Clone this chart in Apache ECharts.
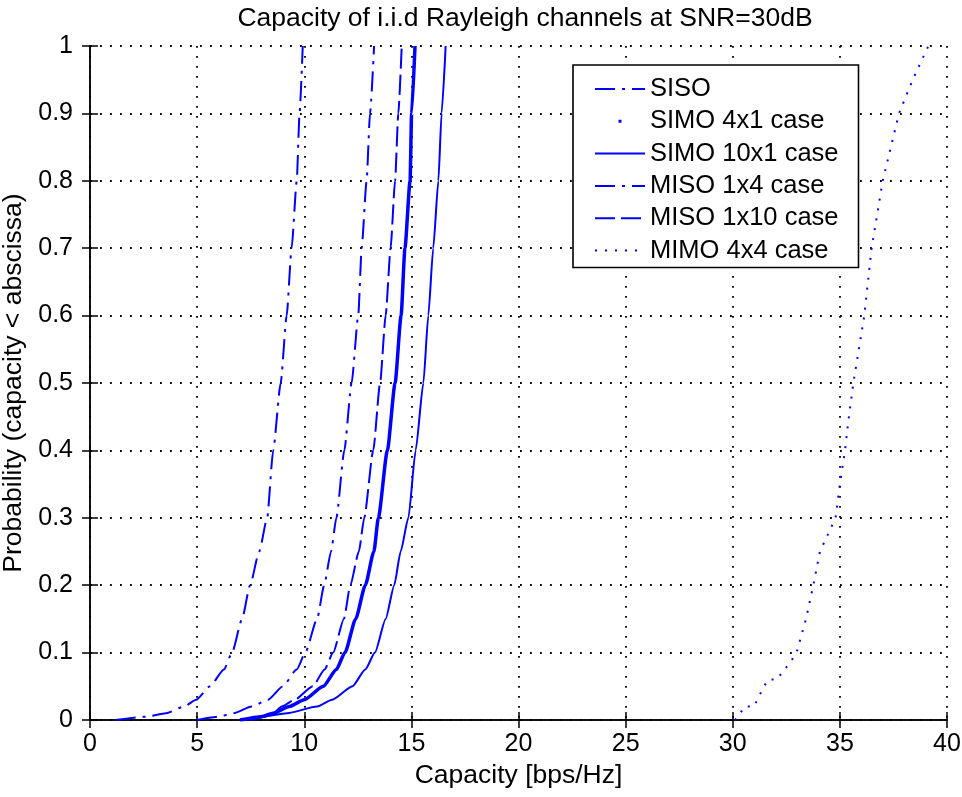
<!DOCTYPE html>
<html>
<head>
<meta charset="utf-8">
<script src="https://cdn.jsdelivr.net/npm/echarts@6/dist/echarts.min.js"></script>
<style>
  html, body { margin: 0; padding: 0; background: #fff; }
  #chart { width: 962px; height: 797px; }
</style>
</head>
<body>
<div id="chart"></div>
<script>
// ---- data ----
const titleText = 'Capacity of i.i.d Rayleigh channels at SNR=30dB';
const xTitle = 'Capacity [bps/Hz]';
const yTitle = 'Probability (capacity < abscissa)';
const seriesNames = ['SISO', 'SIMO 4x1 case', 'SIMO 10x1 case', 'MISO 1x4 case', 'MISO 1x10 case', 'MIMO 4x4 case'];

// probability levels shared by the five left-hand curves
const probLevels = [0, 0.005, 0.01, 0.02, 0.03, 0.05, 0.075, 0.1, 0.15, 0.2, 0.25, 0.3, 0.4, 0.5, 0.6, 0.7, 0.8, 0.9, 1.0];
// capacity (bps/Hz) at each probability level
const sisoCap   = [1.2, 2.6, 3.55, 4.4, 4.95, 5.6, 6.25, 6.63, 7.1, 7.47, 7.9, 8.27, 8.55, 8.9, 9.18, 9.41, 9.65, 9.78, 9.93];
const simo4Cap  = [7.0, 8.0, 8.55, 9.3, 10.0, 10.89, 11.5, 11.9, 12.4, 12.85, 13.25, 13.46, 13.88, 14.24, 14.52, 14.7, 14.94, 15.01, 15.17];
const simo10Cap = [7.0, 8.0, 9.2, 10.6, 11.3, 12.25, 12.85, 13.3, 13.8, 14.2, 14.5, 14.86, 15.2, 15.56, 15.79, 16.02, 16.26, 16.41, 16.6];
const miso4Cap  = [5.0, 6.0, 6.7, 7.55, 8.3, 9.0, 9.65, 10.05, 10.6, 10.93, 11.25, 11.5, 11.87, 12.21, 12.52, 12.68, 12.91, 13.07, 13.26];
const miso10Cap = [7.5, 8.2, 8.55, 8.95, 9.55, 10.4, 10.95, 11.35, 11.85, 12.15, 12.55, 12.8, 13.22, 13.54, 13.8, 14.03, 14.24, 14.39, 14.55];
// MIMO 4x4 curve
const mimoCap  = [30.1, 30.26, 30.54, 30.99, 31.46, 31.66, 32.05, 32.67, 32.98, 33.42, 33.76, 34.07, 34.8, 35.0, 35.24, 35.4, 35.63, 36.14, 36.48, 37.0, 37.76, 38.4, 39.13];
const mimoProb = [0, 0.005, 0.02, 0.02, 0.05, 0.06, 0.06, 0.085, 0.1, 0.15, 0.2, 0.25, 0.3, 0.35, 0.4, 0.445, 0.5, 0.6, 0.7, 0.8, 0.9, 0.95, 1.0];
const xTicks = [0, 5, 10, 15, 20, 25, 30, 35, 40];
const yTicks = [0, 0.1, 0.2, 0.3, 0.4, 0.5, 0.6, 0.7, 0.8, 0.9, 1];

// ---- chart ----
const FONT = 'Liberation Sans, Arial, sans-serif';
const BLUE = '#0000ff';
const zip = (xs, ys) => xs.map((x, i) => [x, ys[i]]);

const chart = echarts.init(document.getElementById('chart'), null, { renderer: 'canvas' });

const commonAxisLine = { show: true, lineStyle: { color: '#000', width: 1.5 } };
const dottedGrid = { show: true, lineStyle: { color: '#000', width: 1.8, type: [1.8, 8.2] } };
const tickStyle = { show: true, inside: true, length: 8, lineStyle: { color: '#000', width: 1.5 } };

const baseLine = (name, data, lineStyle) => ({
  name, type: 'line', data, symbol: 'none', showSymbol: false,
  smooth: 0.2, smoothMonotone: 'x', clip: true,
  lineStyle: Object.assign({ color: BLUE, width: 2 }, lineStyle),
  itemStyle: { color: BLUE },
  emphasis: { disabled: true }, animation: false
});

const hiddenSym = { opacity: 0 };

const option = {
  animation: false,
  backgroundColor: '#fff',
  title: {
    text: titleText, left: 520, top: 0, textAlign: 'center',
    textStyle: { fontFamily: FONT, fontSize: 26.5, fontWeight: 'normal', color: '#000' }
  },
  grid: { left: 90, top: 46, right: 15, bottom: 77, outerBoundsMode: 'none', containLabel: false },
  legend: {
    orient: 'vertical', left: 573, top: 65,
    backgroundColor: '#fff', borderColor: '#000', borderWidth: 1.6,
    padding: [11, 20, 4, 21],
    itemWidth: 50, itemHeight: 14, itemGap: 6.3,
    textStyle: { fontFamily: FONT, fontSize: 25.5, color: '#000' },
    selectedMode: false,
    data: [
      { name: seriesNames[0], itemStyle: hiddenSym },
      { name: seriesNames[1], icon: 'path://M0,0L0.01,0M50,0L50.01,0M0,14L0.01,14M50,14L50.01,14M23.5,5.5L26.5,5.5L26.5,8.5L23.5,8.5Z', itemStyle: { color: BLUE, borderWidth: 0, opacity: 1 } },
      { name: seriesNames[2], itemStyle: hiddenSym },
      { name: seriesNames[3], itemStyle: hiddenSym },
      { name: seriesNames[4], itemStyle: hiddenSym },
      { name: seriesNames[5], itemStyle: hiddenSym }
    ]
  },
  xAxis: [
    {
      type: 'value', min: xTicks[0], max: xTicks[xTicks.length - 1], interval: 5, position: 'bottom',
      axisLine: commonAxisLine, axisTick: tickStyle,
      axisLabel: { fontFamily: FONT, fontSize: 25, color: '#000', margin: 12 },
      splitLine: dottedGrid,
      name: xTitle, nameLocation: 'middle', nameGap: 39,
      nameTextStyle: { fontFamily: FONT, fontSize: 26.5, color: '#000' }
    },
    {
      type: 'value', min: xTicks[0], max: xTicks[xTicks.length - 1], interval: 5, position: 'top',
      axisLine: commonAxisLine, axisTick: tickStyle,
      axisLabel: { show: false }, splitLine: { show: false }
    }
  ],
  yAxis: [
    {
      type: 'value', min: yTicks[0], max: yTicks[yTicks.length - 1], interval: 0.1, position: 'left',
      axisLine: commonAxisLine, axisTick: tickStyle,
      axisLabel: {
        fontFamily: FONT, fontSize: 25, color: '#000', margin: 17,
        formatter: v => String(Math.round(v * 10) / 10)
      },
      splitLine: dottedGrid,
      name: yTitle, nameLocation: 'middle', nameGap: 55,
      nameTextStyle: { fontFamily: FONT, fontSize: 26.5, color: '#000' }
    },
    {
      type: 'value', min: yTicks[0], max: yTicks[yTicks.length - 1], interval: 0.1, position: 'right',
      axisLine: commonAxisLine, axisTick: tickStyle,
      axisLabel: { show: false }, splitLine: { show: false }
    }
  ],
  series: [
    baseLine(seriesNames[0], zip(sisoCap, probLevels), { type: [20, 7, 3, 7] }),
    baseLine(seriesNames[1], zip(simo4Cap, probLevels), { width: 3.5 }),
    baseLine(seriesNames[2], zip(simo10Cap, probLevels), { width: 2 }),
    baseLine(seriesNames[3], zip(miso4Cap, probLevels), { type: [20, 7, 3, 7] }),
    baseLine(seriesNames[4], zip(miso10Cap, probLevels), { type: [20, 6] }),
    Object.assign(baseLine(seriesNames[5], zip(mimoCap, mimoProb), { type: [2, 8], width: 2 }), { smooth: false })
  ]
};

chart.setOption(option);
</script>
</body>
</html>
